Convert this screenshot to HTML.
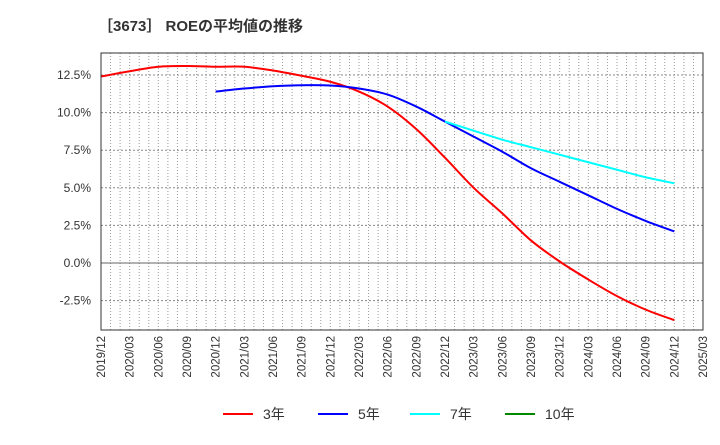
<!DOCTYPE html>
<html><head><meta charset="utf-8"><style>
body{margin:0;background:#fff;font-family:"Liberation Sans","Noto Sans CJK JP",sans-serif}
svg text{font-family:"Liberation Sans","Noto Sans CJK JP",sans-serif}
</style></head><body>
<svg id="c" width="720" height="440" xmlns="http://www.w3.org/2000/svg">
<text x="98" y="31" font-size="15" font-weight="bold" fill="#333">［3673］ ROEの平均値の推移</text>
<g id="grid"></g><g id="series"></g><g id="axes"></g><g id="legend"></g>
</svg>
<script>
const xTicks=["2019/12","2020/03","2020/06","2020/09","2020/12","2021/03","2021/06","2021/09","2021/12","2022/03","2022/06","2022/09","2022/12","2023/03","2023/06","2023/09","2023/12","2024/03","2024/06","2024/09","2024/12","2025/03"];
const yTicks=[12.5,10,7.5,5,2.5,0,-2.5];
const s3=[12.4,12.75,13.05,13.1,13.05,13.05,12.8,12.45,12.05,11.4,10.4,8.9,7.0,5.0,3.3,1.5,0.1,-1.1,-2.2,-3.1,-3.8];
const s5=[11.4,11.6,11.75,11.82,11.8,11.6,11.2,10.4,9.4,8.4,7.4,6.3,5.4,4.5,3.6,2.8,2.1];
const s7=[9.4,8.8,8.2,7.7,7.2,6.7,6.2,5.7,5.3];
const s10=[];
const names=["3年","5年","7年","10年"], colors=["#f00","#00f","#0ff","#080"];
const L=101,R=703,T=53,B=330;
const X=q=>L+(R-L)*q/21;
const Y=v=>263-v*15.04;
const ns="http://www.w3.org/2000/svg";
function el(t,a,p){const e=document.createElementNS(ns,t);for(const k in a)e.setAttribute(k,a[k]);p.appendChild(e);return e;}
const g=document.getElementById('grid'),ax=document.getElementById('axes'),se=document.getElementById('series'),lg=document.getElementById('legend');
for(let m=1;m<63;m++){const x=L+(R-L)*m/63;const l=el('line',{x1:x,x2:x,y1:T,y2:B,stroke:'#999','stroke-dasharray':'1,2','stroke-width':1},g);

}
yTicks.forEach(v=>{const y=Y(v);const l=el('line',{x1:L,x2:R,y1:y,y2:y,stroke:v===0?'#666':'#888','stroke-dasharray':v===0?'':'2,2','stroke-width':1},g);


const t=el('text',{x:L-10,y:y+4,'text-anchor':'end','font-size':12,fill:'#333'},ax);t.textContent=v.toFixed(1)+'%';

});
const fr=el('rect',{x:L,y:T,width:R-L,height:B-T,fill:'none',stroke:'#333'},ax);


xTicks.forEach((s,i)=>{const x=X(i);const t=el('text',{transform:`translate(${x+4},${B+6}) rotate(-90)`,'text-anchor':'end','font-size':11.5,fill:'#333'},ax);t.textContent=s;

});
function path(pts){let d=`M${pts[0][0]},${pts[0][1]}`;for(let i=0;i<pts.length-1;i++){const p0=pts[i-1]||pts[i],p1=pts[i],p2=pts[i+1],p3=pts[i+2]||p2;
d+=` C${p1[0]+(p2[0]-p0[0])/6},${p1[1]+(p2[1]-p0[1])/6} ${p2[0]-(p3[0]-p1[0])/6},${p2[1]-(p3[1]-p1[1])/6} ${p2[0]},${p2[1]}`;}return d;}
[[s3,0],[s5,4],[s7,12],[s10,20]].forEach(([s,off],k)=>{if(s.length<2)return;const pts=s.map((v,i)=>[X(off+i),Y(v)]);
const p=el('path',{d:path(pts),fill:'none',stroke:colors[k],'stroke-width':2},se);

});
const lx=[223,318,410,505];
names.forEach((n,k)=>{const gg=el('g',{},lg);


el('line',{x1:lx[k],x2:lx[k]+30,y1:414,y2:414,stroke:colors[k],'stroke-width':2},gg);
const t=el('text',{x:lx[k]+40,y:419,'font-size':14,fill:'#333'},gg);t.textContent=n;});
</script>
</body></html>
